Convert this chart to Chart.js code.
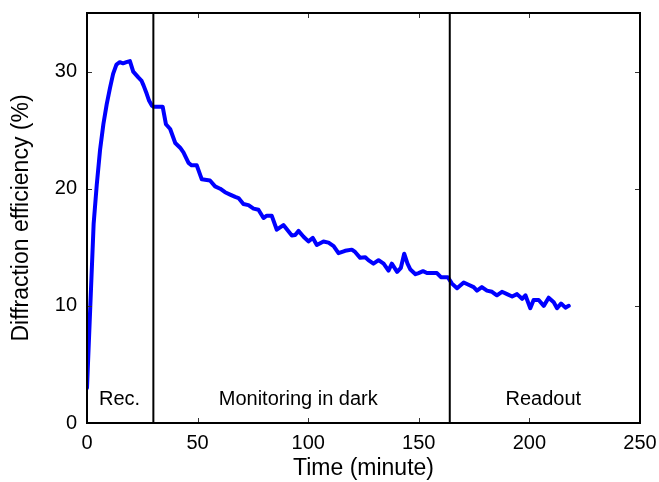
<!DOCTYPE html>
<html>
<head>
<meta charset="utf-8">
<script src="https://cdn.jsdelivr.net/npm/chart.js@4.4.1/dist/chart.umd.min.js"></script>
<style>
  html, body { margin: 0; padding: 0; background: #fff; }
  canvas { display: block; }
</style>
</head>
<body>
<canvas id="chart1" width="659" height="482"></canvas>
<script>
/************* data ********* */
const timeMin = [0, 1.5, 3, 4.4, 5.9, 7.4, 8.9, 10.4, 11.8, 13.3, 14.8, 16.3, 17.8, 19.4, 20.9, 23.2, 24.7, 25.6, 27.0, 28.1, 29.3, 30.1,
  34.2, 35.7, 37.6, 39.9, 42.1, 43.6, 45.9, 47.3, 49.6, 51.9, 55.6, 57.9, 60.2, 62.4, 64.7, 67.0, 68.5, 70.7, 73.0, 75.3, 77.5,
  79.8, 81.3, 83.5, 85.8, 88.8, 92.6, 94.1, 95.6, 97.9, 100.1, 102.1, 103.9, 106.9, 109.2, 111.5, 113.7, 116.7, 119.7, 121.2,
  123.5, 125.8, 127.2, 129.5, 131.8, 134.1, 136.3, 137.8, 140.2, 141.9, 143.4, 144.9, 146.2, 148.5, 149.9, 151.9, 153.7,
  158.2, 160.0, 163.1, 165.0, 167.3, 170.3, 172.5, 174.8, 176.3, 178.5, 180.8, 183.1, 185.3, 187.6, 189.9, 192.2, 194.4,
  196.7, 198.2, 200.4, 201.9, 204.2, 206.5, 208.7, 211.0, 212.5, 214.3, 216.3, 217.8];
const efficiency = [3.0, 10.0, 17.0, 20.3, 23.3, 25.5, 27.2, 28.6, 29.8, 30.6, 30.8, 30.7, 30.8, 30.9, 30.0, 29.5, 29.2, 28.8, 28.1, 27.5, 27.1, 27.0,
  27.0, 25.5, 25.1, 23.9, 23.5, 23.1, 22.2, 22.0, 22.0, 20.8, 20.7, 20.2, 20.0, 19.7, 19.5, 19.3, 19.2, 18.7, 18.6, 18.3, 18.2,
  17.5, 17.7, 17.7, 16.5, 16.9, 16.0, 16.05, 16.4, 15.9, 15.5, 15.8, 15.2, 15.5, 15.4, 15.1, 14.5, 14.7, 14.8, 14.6,
  14.1, 14.15, 13.9, 13.6, 13.9, 13.6, 13.0, 13.6, 12.9, 13.25, 14.45, 13.6, 13.1, 12.7, 12.8, 12.96, 12.8,
  12.8, 12.45, 12.45, 11.9, 11.5, 12.0, 11.8, 11.6, 11.3, 11.6, 11.3, 11.2, 10.9, 11.2, 11.0, 10.8, 11.0,
  10.6, 10.9, 9.8, 10.5, 10.5, 10.0, 10.7, 10.3, 9.8, 10.2, 9.85, 10.0];

const phaseBounds = [30, 164];                 // minutes where the phases switch
const phaseNames = ["Rec.", "Monitoring in dark", "Readout"];
const phaseNameX = [14.7, 95.5, 206.3];        // label centres, minutes
const phaseNameY = 2;                          // label height, %

const xTicks = [0, 50, 100, 150, 200, 250];
const yTicks = [0, 10, 20, 30];
const yMax = 35;

const FONT = '"Liberation Sans", Arial, sans-serif';
Chart.defaults.font.family = FONT;
Chart.defaults.color = '#000';

/************* frame, inside ticks, phase names ********* */
const frameAndLabels = {
    id: 'frameAndLabels',
    afterDatasetsDraw(chart) {
        const { ctx, chartArea: a, scales: { x, y } } = chart;
        ctx.save();
        ctx.strokeStyle = '#333';
        ctx.lineWidth = 1;
        ctx.beginPath();
        xTicks.forEach(v => {
            const px = Math.round(x.getPixelForValue(v)) + 0.5;
            ctx.moveTo(px, a.bottom); ctx.lineTo(px, a.bottom - 5);
            ctx.moveTo(px, a.top); ctx.lineTo(px, a.top + 5);
        });
        yTicks.forEach(v => {
            const py = Math.round(y.getPixelForValue(v)) + 0.5;
            ctx.moveTo(a.left, py); ctx.lineTo(a.left + 5, py);
            ctx.moveTo(a.right, py); ctx.lineTo(a.right - 5, py);
        });
        ctx.stroke();

        ctx.strokeStyle = '#000';
        ctx.lineWidth = 2;
        ctx.strokeRect(a.left, a.top, a.right - a.left, a.bottom - a.top);

        ctx.font = '20px ' + FONT;
        ctx.fillStyle = '#000';
        ctx.textAlign = 'center';
        ctx.textBaseline = 'middle';
        phaseNames.forEach((s, i) => {
            ctx.fillText(s, x.getPixelForValue(phaseNameX[i]), y.getPixelForValue(phaseNameY));
        });
        ctx.restore();
    }
};

const boundSets = phaseBounds.map(b => ({
    data: [{ x: b, y: 0 }, { x: b, y: yMax }],
    borderColor: '#000',
    borderWidth: 2,
    pointRadius: 0,
    order: 0
}));

new Chart("chart1", {
    type: "line",
    data: {
        datasets: [...boundSets, {
            data: timeMin.map((t, i) => ({ x: t, y: efficiency[i] })),
            borderColor: '#0000ff',
            borderWidth: 4,
            borderJoinStyle: 'round',
            borderCapStyle: 'round',
            pointRadius: 0,
            tension: 0,
            order: 1
        }]
    },
    options: {
        responsive: false,
        animation: false,
        layout: { padding: { left: 0, right: 19, top: 13, bottom: 0 } },
        plugins: {
            legend: { display: false },
            tooltip: { enabled: false }
        },
        scales: {
            x: {
                type: 'linear',
                min: 0,
                max: 250,
                afterFit: s => { s.height = 59; s.paddingLeft = 0; s.paddingRight = 0; },
                afterBuildTicks: s => { s.ticks = xTicks.map(v => ({ value: v })); },
                grid: { display: false, drawTicks: false },
                border: { display: false },
                ticks: { font: { size: 20 }, padding: 8, maxRotation: 0 },
                title: { display: true, text: 'Time (minute)', font: { size: 23 }, padding: { top: 0, bottom: 0 } }
            },
            y: {
                min: 0,
                max: yMax,
                afterFit: s => { s.width = 87; s.paddingTop = 0; s.paddingBottom = 0; },
                afterBuildTicks: s => { s.ticks = yTicks.map(v => ({ value: v })); },
                grid: { display: false, drawTicks: false },
                border: { display: false },
                ticks: { font: { size: 20 }, padding: 10 },
                title: { display: true, text: 'Diffraction efficiency (%)', font: { size: 23 }, padding: { top: 8, bottom: 0 } }
            }
        }
    },
    plugins: [frameAndLabels]
});
</script>
</body>
</html>
